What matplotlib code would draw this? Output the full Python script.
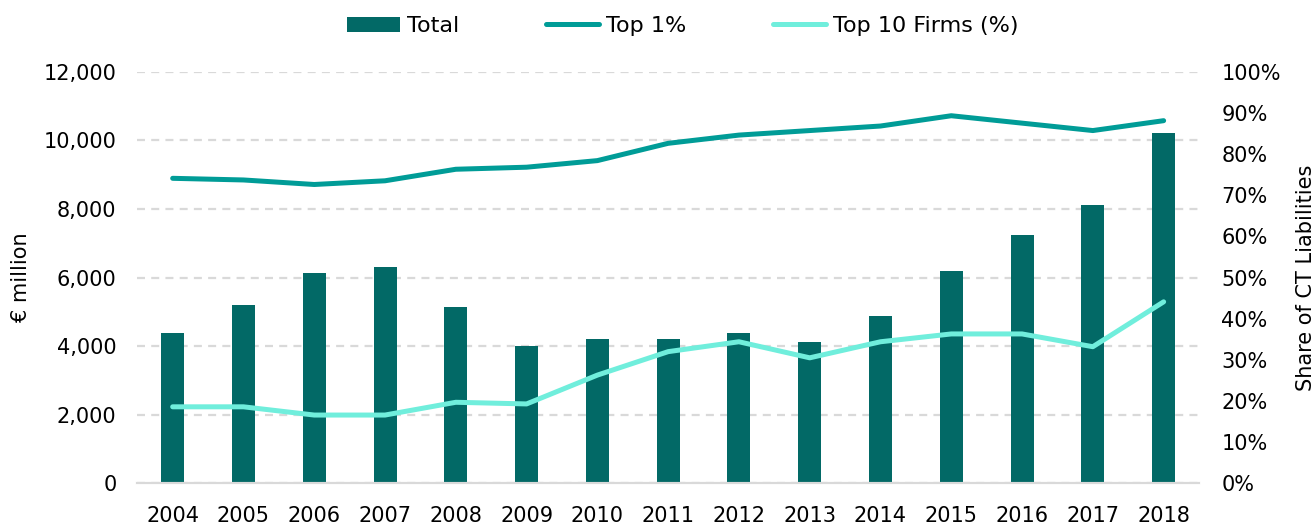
import numpy as np
import matplotlib.pyplot as plt
from matplotlib.ticker import FuncFormatter

plt.rcParams['font.family'] = ['DejaVu Sans']

# data
years = ['2004', '2005', '2006', '2007', '2008', '2009', '2010', '2011',
         '2012', '2013', '2014', '2015', '2016', '2017', '2018']
total = [4380, 5190, 6130, 6310, 5130, 4010, 4200, 4200,
         4380, 4130, 4880, 6190, 7250, 8120, 10220]
top1 = [74.1, 73.7, 72.6, 73.5, 76.3, 76.8, 78.4, 82.6,
        84.6, 85.7, 86.8, 89.3, 87.5, 85.7, 88.1]
top10 = [18.6, 18.6, 16.6, 16.6, 19.7, 19.3, 26.3, 32.0,
         34.4, 30.5, 34.4, 36.3, 36.3, 33.2, 44.1]

bar_col = '#026966'
top1_col = '#009C97'
top10_col = '#70EEDC'
grid_col = '#d9d9d9'
fs = 15

fig = plt.figure(figsize=(13.15, 5.24), dpi=100)
ax = fig.add_axes([0.1044, 0.0775, 0.8074, 0.7857])
ax2 = ax.twinx()

x = np.arange(len(years))
b = ax.bar(x, total, width=0.325, color=bar_col, label='Total', zorder=2)
l1, = ax2.plot(x, top1, color=top1_col, lw=3.6, solid_capstyle='round',
               solid_joinstyle='round', label='Top 1%')
l2, = ax2.plot(x, top10, color=top10_col, lw=3.6, solid_capstyle='round',
               solid_joinstyle='round', label='Top 10 Firms (%)')

ax.set_xlim(-0.5, len(years) - 0.5)
ax.set_ylim(0, 12000)
ax.set_yticks(np.arange(0, 12001, 2000))
ax.yaxis.set_major_formatter(FuncFormatter(lambda v, p: f'{int(v):,}'))
ax2.set_ylim(0, 100)
ax2.set_yticks(np.arange(0, 101, 10))
ax2.yaxis.set_major_formatter(FuncFormatter(lambda v, p: f'{int(v)}%'))

ax.set_xticks(x)
ax.set_xticklabels(years)

ax.set_axisbelow(True)
ax.yaxis.grid(True, color=grid_col, lw=1.6, linestyle=(0, (3.6, 2.8)))
ax.xaxis.grid(False)

for a in (ax, ax2):
    for s in ('top', 'right', 'left'):
        a.spines[s].set_visible(False)
    a.spines['bottom'].set_color(grid_col)
    a.spines['bottom'].set_linewidth(1.5)
    a.tick_params(length=0, labelsize=fs, colors='black')

ax.tick_params(axis='y', pad=15)
ax.tick_params(axis='x', pad=16)
ax2.tick_params(axis='y', pad=16)

ax.set_ylabel('€ million', fontsize=fs, labelpad=9)
ax2.set_ylabel('Share of CT Liabilities', fontsize=fs, labelpad=11)

fig.legend(handles=[b, l1, l2], loc='center', bbox_to_anchor=(0.519, 0.95),
           ncol=3, frameon=False, fontsize=16, handlelength=2.4,
           handletextpad=0.3, columnspacing=3.9)

fig.savefig('out.png', dpi=100)
